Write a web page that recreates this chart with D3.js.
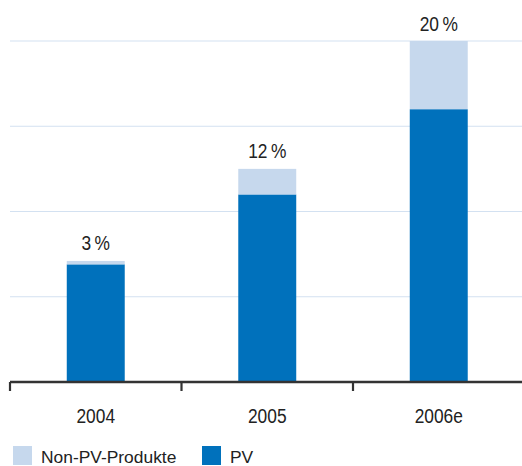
<!DOCTYPE html>
<html>
<head>
<meta charset="utf-8">
<script src="https://cdn.jsdelivr.net/npm/d3@7"></script>
<style>
  html, body { margin: 0; padding: 0; background: #fff; }
  svg { display: block; }
  text { font-family: "Liberation Sans", Arial, sans-serif; fill: #222; }
</style>
</head>
<body>
<svg id="chart" width="522" height="466"></svg>
<script>
// Sales by year, stacked: PV products and non-PV products
const years = ["2004", "2005", "2006e"];
const pvValues = [138, 220, 320];
const nonPvValues = [4, 30, 80];
const shareLabels = ["3\u2009%", "12\u2009%", "20\u2009%"];
const gridTicks = [100, 200, 300, 400];
const seriesNames = ["Non-PV-Produkte", "PV"];

const colors = { pv: "#0071bc", nonPv: "#c6d8ed", grid: "#d3e1f1", axis: "#333" };

const svg = d3.select("#chart");
const margin = { left: 10, right: -2.5, top: 41, bottom: 84 };
const W = 522, H = 466;
const narrow = 0.89; // horizontal squeeze for the condensed-looking numerals

const x = d3.scaleBand().domain(years).range([margin.left, W - margin.right]).padding(0);
const y = d3.scaleLinear().domain([0, 400]).range([H - margin.bottom, margin.top]);
const barW = x.bandwidth() * 0.338;

// horizontal gridlines
svg.append("g").selectAll("line").data(gridTicks).join("line")
  .attr("x1", margin.left).attr("x2", W)
  .attr("y1", d => y(d)).attr("y2", d => y(d))
  .attr("stroke", colors.grid).attr("stroke-width", 1.2);

const rows = years.map((yr, i) => ({ year: yr, pv: pvValues[i], nonPv: nonPvValues[i], label: shareLabels[i] }));
const stack = d3.stack().keys(["pv", "nonPv"])(rows);

svg.append("g").selectAll("g").data(stack).join("g")
  .attr("fill", d => d.key === "pv" ? colors.pv : colors.nonPv)
  .selectAll("rect").data(d => d).join("rect")
  .attr("x", d => x(d.data.year) + (x.bandwidth() - barW) / 2)
  .attr("width", barW)
  .attr("y", d => y(d[1]))
  .attr("height", d => y(d[0]) - y(d[1]));

// share labels above the bars
svg.append("g").selectAll("text").data(rows).join("text")
  .attr("transform", d => `translate(${x(d.year) + x.bandwidth() / 2},${y(d.pv + d.nonPv) - 10.5}) scale(${narrow},1)`)
  .attr("text-anchor", "middle")
  .attr("font-size", 19.5)
  .text(d => d.label);

// x axis with ticks at band boundaries
const axisY = y(0);
const axis = svg.append("g");
axis.append("line").attr("x1", margin.left).attr("x2", W)
  .attr("y1", axisY).attr("y2", axisY)
  .attr("stroke", colors.axis).attr("stroke-width", 2.6);
axis.selectAll("line.tick").data(years).join("line").attr("class", "tick")
  .attr("x1", d => x(d)).attr("x2", d => x(d))
  .attr("y1", axisY).attr("y2", axisY + 9)
  .attr("stroke", colors.axis).attr("stroke-width", 2.2);
axis.selectAll("text").data(years).join("text")
  .attr("transform", d => `translate(${x(d) + x.bandwidth() / 2},${axisY + 41}) scale(${narrow},1)`)
  .attr("text-anchor", "middle")
  .attr("font-size", 19.5)
  .text(d => d);

// legend
const legendItems = [
  { name: seriesNames[0], color: colors.nonPv, x: 13 },
  { name: seriesNames[1], color: colors.pv, x: 202 }
];
const lg = svg.append("g");
lg.selectAll("rect").data(legendItems).join("rect")
  .attr("x", d => d.x).attr("y", 446).attr("width", 19).attr("height", 19)
  .attr("fill", d => d.color);
lg.selectAll("text").data(legendItems).join("text")
  .attr("x", d => d.x + 28).attr("y", 462.5)
  .attr("font-size", 17.4)
  .text(d => d.name);
</script>
</body>
</html>
